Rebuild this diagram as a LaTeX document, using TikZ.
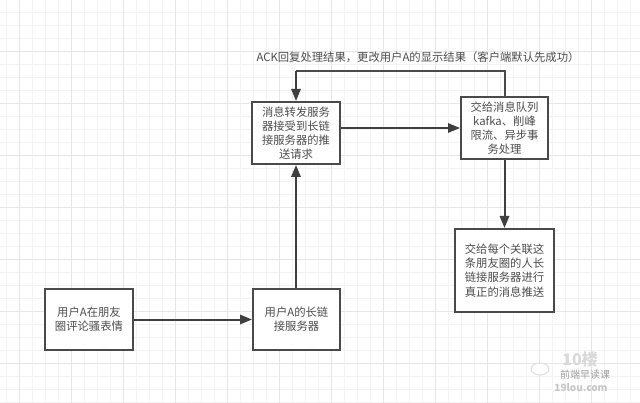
\documentclass[tikz,border=0pt]{standalone}
\usepackage{fontspec}
\setmainfont{Noto Sans CJK SC}
\usetikzlibrary{arrows.meta}
\definecolor{boxline}{HTML}{4A4A4A}
\definecolor{txt}{HTML}{4D4D4D}
\definecolor{minorgrid}{HTML}{F3F3F3}
\definecolor{majorgrid}{HTML}{E6E6E6}
\tikzset{
  px/.style={x=0.75pt,y=-0.75pt},
  flowbox/.style={draw=boxline,line width=1.5pt,fill=white,text=txt,align=center,inner sep=0pt,font=\fontsize{8.5pt}{10.6pt}\selectfont},
  link/.style={draw=boxline!85!black,line width=1.5pt,-{Triangle[length=9pt,width=7pt]}},
  plainline/.style={draw=boxline,line width=1.5pt},
}
\begin{document}
\begin{tikzpicture}[px]
\useasboundingbox (0,0) rectangle (640,403);
\fill[white] (0,0) rectangle (640,403);
\foreach \x in {6,19,32,45,58,71,84,97,110,123,136,149,162,175,188,201,214,227,240,253,266,279,292,305,318,331,344,357,370,383,396,409,422,435,448,461,474,487,500,513,526,539,552,565,578,591,604,617,630}
  \draw[minorgrid,line width=0.6pt] (\x,0) -- (\x,403);
\foreach \y in {12,25,38,51,64,77,90,103,116,129,142,155,168,181,194,207,220,233,246,259,272,285,298,311,324,337,350,363,376,389,402}
  \draw[minorgrid,line width=0.6pt] (0,\y) -- (640,\y);
\foreach \x in {19,71,123,175,227,279,331,383,435,487,539,591}
  \draw[majorgrid,line width=0.7pt] (\x,0) -- (\x,403);
\foreach \y in {51,103,155,207,259,311,363}
  \draw[majorgrid,line width=0.7pt] (0,\y) -- (640,\y);

\node[flowbox,minimum width=88pt*0.75,minimum height=61pt*0.75] (a) at (89,319.5) {用户A在朋友\\圈评论骚表情};
\node[flowbox,minimum width=87pt*0.75,minimum height=61pt*0.75] (b) at (296.5,319.5) {用户A的长链\\接服务器};
\node[flowbox,minimum width=88pt*0.75,minimum height=62pt*0.75] (c) at (296,133) {消息转发服务\\器接受到长链\\接服务器的推\\送请求};
\node[flowbox,minimum width=87pt*0.75,minimum height=62pt*0.75] (d) at (504.5,128) {交给消息队列\\kafka、削峰\\限流、异步事\\务处理};
\node[flowbox,minimum width=99pt*0.75,minimum height=83pt*0.75] (e) at (504.5,270.5) {交给每个关联这\\条朋友圈的人长\\链接服务器进行\\真正的消息推送};
\node[text=txt,inner sep=0pt,font=\fontsize{8.5pt}{10pt}\selectfont] (lbl) at (418,57) {ACK回复处理结果，更改用户A的显示结果（客户端默认先成功）};

\coordinate (ctop) at (296,71);
\coordinate (dtop) at (504.5,71);
\draw[link] (a) -- (b);
\draw[link] (b.north -| c) -- (c.south);
\draw[link] (c.east |- d) -- (d.west);
\draw[link] (d) -- (e);
\draw[plainline] (d.north) -- (dtop) -- (ctop);
\draw[link] (ctop) -- (c.north);

\draw[gray!25,fill=white,line width=0.8pt] (540,369) ellipse (9 and 6);
\node[text=gray!30,inner sep=0pt,font=\fontsize{12pt}{12pt}\selectfont\bfseries] (wma) at (580,359) {10楼};
\node[text=gray!75,inner sep=0pt,font=\fontsize{7.5pt}{8pt}\selectfont] (wmb) at (585,374.5) {前端早读课};
\node[text=gray!45,inner sep=0pt,font=\fontsize{7.5pt}{8pt}\selectfont\bfseries] (wmc) at (581,387.5) {19lou.com};
\end{tikzpicture}
\end{document}
